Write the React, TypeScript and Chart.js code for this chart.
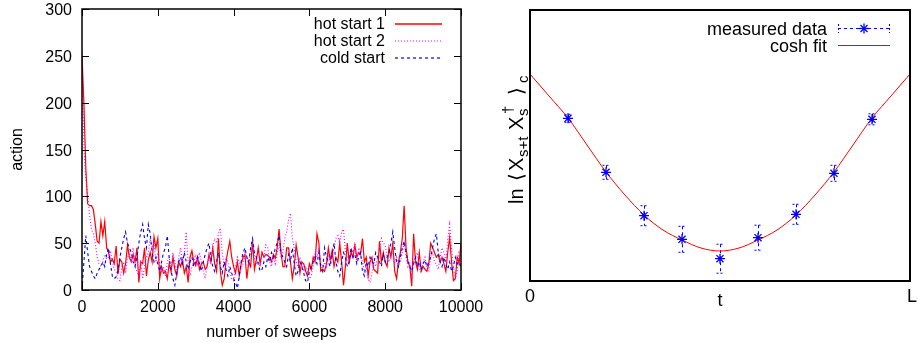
import React, { useEffect, useRef } from 'react';
import { Chart, registerables } from 'chart.js';
Chart.register(...registerables);

// ---------- left panel data ----------
const SWEEP_STEP = 50;
const hotStart1 = [
  250, 200, 130, 92, 90, 90, 86, 70, 52, 50,
  73, 58, 73, 45, 40, 30, 33, 28, 47, 17,
  33, 30, 18, 28, 48, 35, 30, 38, 30, 45,
  8, 30, 28, 45, 15, 32, 40, 30, 57, 45,
  55, 12, 25, 18, 20, 12, 28, 20, 35, 22,
  15, 30, 25, 32, 18, 25, 8, 35, 42, 30,
  26, 35, 22, 28, 30, 22, 25, 38, 30, 45,
  28, 20, 55, 20, 5, 12, 30, 42, 52, 35,
  25, 18, 30, 15, 28, 35, 38, 12, 30, 25,
  52, 22, 32, 45, 28, 40, 35, 38, 37, 35,
  30, 38, 34, 45, 65, 40, 25, 25, 45, 45,
  30, 12, 25, 48, 35, 18, 30, 28, 20, 15,
  28, 22, 35, 30, 60, 50, 20, 22, 20, 28,
  45, 32, 42, 25, 35, 30, 50, 30, 5, 25,
  50, 30, 40, 35, 48, 35, 40, 38, 55, 30,
  35, 15, 30, 35, 22, 20, 18, 52, 30, 40,
  30, 25, 45, 35, 50, 20, 12, 30, 40, 55,
  90, 45, 30, 25, 4, 60, 30, 22, 40, 20,
  25, 22, 20, 28, 50, 45, 40, 35, 38, 30,
  35, 28, 20, 40, 56, 30, 10, 12, 35, 28,
  50,
];
const hotStart2 = [
  255, 150, 120, 100, 80, 65, 60, 50, 35, 28,
  25, 30, 38, 33, 35, 42, 30, 22, 20, 12,
  10, 25, 30, 18, 35, 40, 30, 45, 25, 20,
  15, 32, 12, 25, 35, 40, 55, 45, 50, 30,
  40, 28, 20, 25, 15, 30, 35, 20, 40, 30,
  18, 35, 45, 30, 40, 62, 30, 15, 25, 30,
  38, 28, 40, 30, 20, 12, 25, 35, 28, 45,
  55, 50, 60, 66, 40, 25, 35, 30, 20, 12,
  10, 25, 35, 30, 22, 28, 40, 35, 25, 45,
  50, 35, 28, 30, 25, 40, 35, 48, 45, 30,
  25, 35, 28, 40, 48, 35, 40, 55, 62, 75,
  82, 55, 45, 30, 25, 35, 28, 20, 25, 18,
  12, 15, 25, 40, 35, 45, 28, 20, 30, 25,
  38, 30, 35, 45, 55, 58, 50, 62, 65, 40,
  35, 28, 45, 40, 50, 30, 45, 38, 30, 20,
  25, 12, 8, 18, 30, 25, 35, 45, 55, 50,
  48, 35, 30, 38, 40, 28, 35, 25, 30, 40,
  50, 35, 25, 30, 12, 30, 35, 40, 22, 18,
  30, 35, 25, 20, 35, 40, 30, 28, 22, 35,
  45, 40, 30, 55, 70, 45, 25, 12, 20, 40,
  35,
];
const coldStart = [
  0, 30, 58, 40, 25, 20, 15, 12, 18, 22,
  25, 30, 25, 38, 45, 28, 15, 12, 14, 20,
  35, 45, 55, 62, 50, 45, 40, 30, 25, 35,
  50, 62, 70, 55, 45, 70, 60, 40, 30, 35,
  28, 20, 30, 40, 45, 58, 35, 20, 12, 5,
  18, 30, 35, 28, 40, 30, 22, 30, 35, 25,
  30, 35, 28, 20, 30, 38, 45, 50, 35, 25,
  20, 30, 40, 25, 18, 30, 22, 15, 25, 18,
  12, 8, 2, 15, 30, 40, 45, 35, 30, 45,
  55, 40, 35, 28, 20, 22, 30, 25, 35, 30,
  40, 35, 45, 50, 58, 40, 35, 30, 25, 38,
  30, 45, 28, 15, 20, 30, 25, 18, 10, 8,
  20, 25, 30, 35, 28, 40, 25, 20, 45, 35,
  30, 25, 38, 50, 30, 20, 15, 30, 40, 35,
  25, 30, 45, 35, 38, 28, 35, 40, 20, 15,
  30, 25, 35, 30, 28, 40, 35, 30, 25, 38,
  30, 35, 40, 50, 62, 45, 30, 25, 35, 45,
  52, 40, 30, 25, 20, 28, 35, 25, 30, 22,
  28, 32, 25, 30, 35, 45, 55, 60, 40, 30,
  25, 35, 28, 22, 30, 20, 25, 35, 28, 30,
  25,
];
const sweeps = hotStart1.map((_, i) => i * SWEEP_STEP);
const actionTicks = [0, 50, 100, 150, 200, 250, 300];
const sweepTicks = [0, 2000, 4000, 6000, 8000, 10000];
const leftNames = ['hot start 1', 'hot start 2', 'cold start'];

// ---------- right panel data ----------
const tValues = [1, 2, 3, 4, 5, 6, 7, 8, 9];
const measured = [162.7, 108.7, 65.3, 41.7, 22.3, 43.3, 66.7, 107.7, 161.7];
const measuredErr = [4, 7, 10, 13, 14.5, 12.5, 10, 8, 5.5];
const fitT = [0, 0.5, 1, 1.5, 2, 2.5, 3, 3.5, 4, 4.5, 5, 5.5, 6, 6.5, 7, 7.5, 8, 8.5, 9, 9.5, 10];
const fitValues = [207, 185, 163, 136, 109, 86, 66, 51, 41, 33, 30, 33, 41, 51, 66, 86, 109, 136, 163, 185, 207];
const rightNames = ['measured data', 'cosh fit'];
const rightXTicks = ['0', 't', 'L'];

const FONT = '"Liberation Sans", Arial, Helvetica, sans-serif';
const RED = '#ff0000';
const MAGENTA = '#ff00ff';
const BLUE = '#0000ff';
const SPLIT = 500; // left canvas width; right canvas starts here

function seg(ctx: CanvasRenderingContext2D, x1: number, y1: number, x2: number, y2: number) {
  ctx.beginPath();
  ctx.moveTo(x1, y1);
  ctx.lineTo(x2, y2);
  ctx.stroke();
}

const leftDecor = {
  id: 'leftDecor',
  afterDraw(chart: any) {
    const { ctx, chartArea: a, scales } = chart;
    const x = scales.x;
    const y = scales.y;
    ctx.save();
    ctx.strokeStyle = '#000';
    ctx.setLineDash([]);
    ctx.lineWidth = 1;
    for (const v of actionTicks) {
      const py = Math.round(y.getPixelForValue(v)) + 0.5;
      seg(ctx, a.left, py, a.left + 7, py);
      seg(ctx, a.right - 7, py, a.right, py);
    }
    for (const v of sweepTicks) {
      const px = Math.round(x.getPixelForValue(v)) + 0.5;
      seg(ctx, px, a.bottom, px, a.bottom - 7);
      seg(ctx, px, a.top, px, a.top + 7);
    }
    ctx.lineWidth = 1.5;
    ctx.strokeRect(a.left, a.top, a.right - a.left, a.bottom - a.top);

    ctx.fillStyle = '#000';
    ctx.font = `16px ${FONT}`;
    ctx.textBaseline = 'alphabetic';
    ctx.textAlign = 'right';
    for (const v of actionTicks) ctx.fillText(String(v), a.left - 10, y.getPixelForValue(v) + 6);
    ctx.textAlign = 'center';
    for (const v of sweepTicks) ctx.fillText(String(v), x.getPixelForValue(v), a.bottom + 22);
    ctx.fillText('number of sweeps', (a.left + a.right) / 2, 337);
    ctx.save();
    ctx.translate(22, (a.top + a.bottom) / 2);
    ctx.rotate(-Math.PI / 2);
    ctx.fillText('action', 0, 0);
    ctx.restore();

    // legend
    const styles = [
      { c: RED, d: [] as number[], w: 1.3 },
      { c: MAGENTA, d: [1, 2], w: 1.2 },
      { c: BLUE, d: [3, 3], w: 1.2 },
    ];
    const baselines = [29, 46, 63];
    leftNames.forEach((n, i) => {
      ctx.textAlign = 'right';
      ctx.fillStyle = '#000';
      ctx.fillText(n, 385, baselines[i]);
      ctx.strokeStyle = styles[i].c;
      ctx.lineWidth = styles[i].w;
      ctx.setLineDash(styles[i].d);
      seg(ctx, 395, baselines[i] - 5, 442, baselines[i] - 5);
    });
    ctx.restore();
  },
};

const rightDecor = {
  id: 'rightDecor',
  beforeDatasetsDraw(chart: any) {
    const { ctx, scales } = chart;
    const x = scales.x;
    const y = scales.y;
    ctx.save();
    ctx.strokeStyle = BLUE;
    ctx.lineWidth = 1;
    tValues.forEach((t, i) => {
      const px = Math.round(x.getPixelForValue(t)) + 0.5;
      const yTop = y.getPixelForValue(measured[i] + measuredErr[i]);
      const yBot = y.getPixelForValue(measured[i] - measuredErr[i]);
      ctx.setLineDash([3, 3]);
      seg(ctx, px, yTop, px, yBot);
      ctx.setLineDash([2, 2]);
      seg(ctx, px - 4, yTop, px + 4, yTop);
      seg(ctx, px - 4, yBot, px + 4, yBot);
    });
    ctx.restore();
  },
  afterDraw(chart: any) {
    const { ctx, chartArea: a, scales } = chart;
    const x = scales.x;
    const off = SPLIT;
    ctx.save();
    ctx.strokeStyle = '#000';
    ctx.setLineDash([]);
    ctx.lineWidth = 2;
    ctx.strokeRect(a.left, a.top, a.right - a.left, a.bottom - a.top);

    ctx.fillStyle = '#000';
    ctx.font = `18px ${FONT}`;
    ctx.textAlign = 'center';
    ctx.textBaseline = 'alphabetic';
    ctx.fillText(rightXTicks[0], x.getPixelForValue(0), 302);
    ctx.fillText(rightXTicks[1], x.getPixelForValue(5), 306);
    ctx.textAlign = 'left';
    ctx.fillText(rightXTicks[2], x.getPixelForValue(10) - 3, 302);
    ctx.font = `13px ${FONT}`;
    ctx.fillText('t', x.getPixelForValue(10) + 8, 306);

    // rotated y title: ln ⟨ X_{s+t} X_s^† ⟩_c
    ctx.save();
    ctx.translate(523 - off, 0);
    ctx.rotate(-Math.PI / 2);
    const parts: [string, number, number, number][] = [
      ['ln', 204, 0, 20],
      ['\u27E8', 181, 0, 20],
      ['X', 171, 0, 20],
      ['s+t', 157, 5, 15],
      ['X', 130, 0, 20],
      ['s', 116, 5, 15],
      ['\u2020', 114, -10, 15],
      ['\u27E9', 95, 0, 20],
      ['c', 83, 5, 15],
    ];
    ctx.textAlign = 'left';
    for (const [s, sy, dy, fs] of parts) {
      ctx.font = `${fs}px ${FONT}`;
      ctx.fillText(s, -sy, dy);
    }
    ctx.restore();

    // legend
    ctx.font = `18px ${FONT}`;
    ctx.textAlign = 'right';
    ctx.fillText(rightNames[0], 827 - off, 35);
    ctx.fillText(rightNames[1], 827 - off, 52);
    const l0 = 838 - off;
    const l1 = 890 - off;
    ctx.strokeStyle = BLUE;
    ctx.lineWidth = 1;
    ctx.setLineDash([3, 3]);
    seg(ctx, l0, 28.5, l1, 28.5);
    ctx.setLineDash([2, 2]);
    seg(ctx, l0 + 0.5, 24, l0 + 0.5, 33);
    seg(ctx, l1 - 0.5, 24, l1 - 0.5, 33);
    ctx.setLineDash([]);
    ctx.lineWidth = 1.3;
    const cx = (l0 + l1) / 2;
    const r = 5;
    seg(ctx, cx - r, 28.5, cx + r, 28.5);
    seg(ctx, cx, 28.5 - r, cx, 28.5 + r);
    seg(ctx, cx - r * 0.7, 28.5 - r * 0.7, cx + r * 0.7, 28.5 + r * 0.7);
    seg(ctx, cx - r * 0.7, 28.5 + r * 0.7, cx + r * 0.7, 28.5 - r * 0.7);
    ctx.strokeStyle = RED;
    ctx.lineWidth = 1;
    seg(ctx, l0, 45.5, l1, 45.5);
    ctx.restore();
  },
};

export default function App() {
  const leftRef = useRef<HTMLCanvasElement>(null);
  const rightRef = useRef<HTMLCanvasElement>(null);

  useEffect(() => {
    const common = {
      animation: false as const,
      responsive: false,
      events: [] as any[],
      plugins: { legend: { display: false }, tooltip: { enabled: false } },
    };
    const left = new Chart(leftRef.current!, {
      type: 'line',
      data: {
        datasets: [
          {
            label: leftNames[0],
            data: sweeps.map((s, i) => ({ x: s, y: hotStart1[i] })),
            borderColor: RED,
            borderWidth: 1.2,
            pointRadius: 0,
            tension: 0,
            order: 3,
          },
          {
            label: leftNames[1],
            data: sweeps.map((s, i) => ({ x: s, y: hotStart2[i] })),
            borderColor: MAGENTA,
            borderWidth: 1.1,
            borderDash: [1, 2],
            pointRadius: 0,
            tension: 0,
            order: 2,
          },
          {
            label: leftNames[2],
            data: sweeps.map((s, i) => ({ x: s, y: coldStart[i] })),
            borderColor: BLUE,
            borderWidth: 1.1,
            borderDash: [3, 3],
            pointRadius: 0,
            tension: 0,
            order: 1,
          },
        ],
      },
      options: {
        ...common,
        layout: { padding: { left: 82, right: SPLIT - 461, top: 9, bottom: 53 } },
        scales: {
          x: { type: 'linear', min: 0, max: 10000, display: false },
          y: { type: 'linear', min: 0, max: 300, display: false },
        },
      },
      plugins: [leftDecor],
    } as any);

    const right = new Chart(rightRef.current!, {
      type: 'scatter',
      data: {
        datasets: [
          {
            label: rightNames[0],
            data: tValues.map((t, i) => ({ x: t, y: measured[i] })),
            showLine: false,
            pointStyle: 'star',
            pointRadius: 5,
            borderColor: BLUE,
            backgroundColor: BLUE,
            borderWidth: 1.3,
            order: 1,
          },
          {
            label: rightNames[1],
            data: fitT.map((t, i) => ({ x: t, y: fitValues[i] })),
            showLine: true,
            pointRadius: 0,
            borderColor: RED,
            borderWidth: 1,
            cubicInterpolationMode: 'monotone',
            order: 2,
          },
        ],
      },
      options: {
        ...common,
        layout: { padding: { left: 530 - SPLIT, right: 918 - 910, top: 10, bottom: 62 } },
        scales: {
          x: { type: 'linear', min: 0, max: 10, display: false },
          y: { type: 'linear', min: 0, max: 271, display: false },
        },
      },
      plugins: [rightDecor],
    } as any);

    return () => {
      left.destroy();
      right.destroy();
    };
  }, []);

  return (
    <div style={{ position: 'fixed', left: 0, top: 0, width: 918, height: 343, background: '#fff', overflow: 'hidden' }}>
      <canvas ref={leftRef} width={SPLIT} height={343} style={{ position: 'absolute', left: 0, top: 0, width: SPLIT, height: 343 }} />
      <canvas ref={rightRef} width={918 - SPLIT} height={343} style={{ position: 'absolute', left: SPLIT, top: 0, width: 918 - SPLIT, height: 343 }} />
    </div>
  );
}
